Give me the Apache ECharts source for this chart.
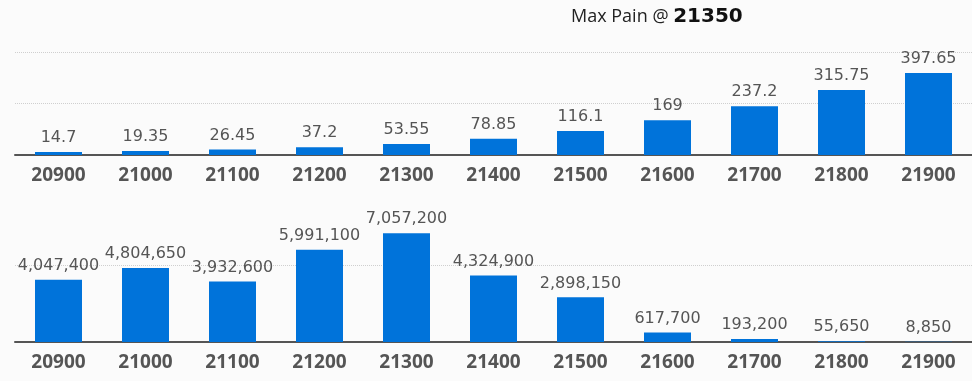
<!DOCTYPE html>
<html>
<head>
<meta charset="utf-8">
<script src="https://cdn.jsdelivr.net/npm/echarts@6/dist/echarts.min.js"></script>
<style>
html,body{margin:0;padding:0;background:#fbfbfb;}
#chart{width:972px;height:381px;}
</style>
</head>
<body>
<div id="chart"></div>
<script>
const strikes = ['20900','21000','21100','21200','21300','21400','21500','21600','21700','21800','21900'];
const priceValues = [14.7, 19.35, 26.45, 37.2, 53.55, 78.85, 116.1, 169, 237.2, 315.75, 397.65];
const painValues = [4047400, 4804650, 3932600, 5991100, 7057200, 4324900, 2898150, 617700, 193200, 55650, 8850];
const maxPainStrike = '21350';

const chart = echarts.init(document.getElementById('chart'), null, {renderer: 'canvas'});

const barColor = '#0073DA';
const labelStyle = {
  show: true, position: 'top', distance: 6,
  color: '#555', fontFamily: 'DejaVu Sans', fontSize: 16
};
const xAxisCommon = {
  type: 'category', data: strikes,
  axisTick: {show: false},
  axisLine: {lineStyle: {color: '#555', width: 2}},
  axisLabel: {color: '#555', fontFamily: 'Open Sans', fontWeight: 'bold', fontSize: 19, margin: 11}
};
const splitCommon = {show: true, lineStyle: {type: 'dotted', color: '#cfcfcf', width: 1}};

chart.setOption({
  backgroundColor: '#fbfbfb',
  animation: false,
  title: {
    text: '{a|Max Pain @ }{b|' + maxPainStrike + '}',
    left: 566, top: 2,
    textStyle: {
      fontWeight: 'normal',
      rich: {
        a: {fontFamily: 'Open Sans', fontWeight: 'normal', fontSize: 18, color: '#222'},
        b: {fontFamily: 'DejaVu Sans', fontWeight: 'bold', fontSize: 20, color: '#111'}
      }
    }
  },
  grid: [
    {left: 15, width: 965, top: 52, height: 103},
    {left: 15, width: 965, top: 188, height: 154}
  ],
  xAxis: [
    Object.assign({gridIndex: 0}, xAxisCommon),
    Object.assign({gridIndex: 1}, xAxisCommon)
  ],
  yAxis: [
    {gridIndex: 0, type: 'value', min: 0, max: 500, interval: 250,
     axisLabel: {show: false}, axisLine: {show: false}, axisTick: {show: false},
     splitLine: splitCommon},
    {gridIndex: 1, type: 'value', min: 0, max: 10000000, interval: 5000000,
     axisLabel: {show: false}, axisLine: {show: false}, axisTick: {show: false},
     splitLine: Object.assign({showMaxLine: false}, splitCommon)}
  ],
  series: [
    {type: 'bar', xAxisIndex: 0, yAxisIndex: 0, data: priceValues, barWidth: 47,
     itemStyle: {color: barColor}, label: labelStyle},
    {type: 'bar', xAxisIndex: 1, yAxisIndex: 1, data: painValues, barWidth: 47,
     itemStyle: {color: barColor},
     label: Object.assign({}, labelStyle, {formatter: p => p.value.toLocaleString('en-US')})}
  ]
});
</script>
</body>
</html>
